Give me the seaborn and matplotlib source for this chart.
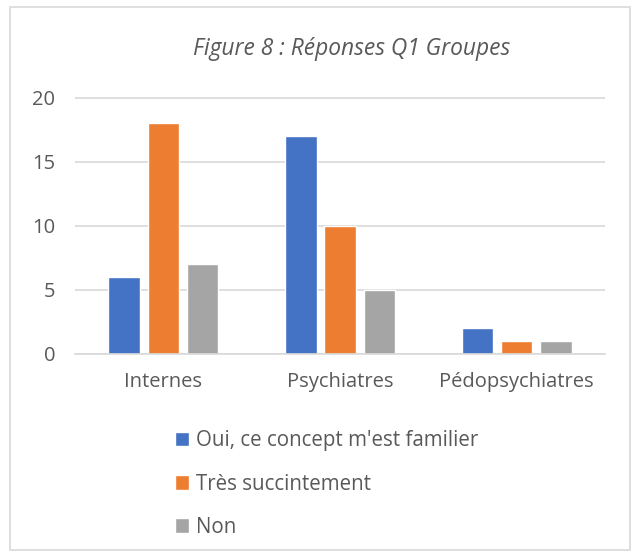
import matplotlib
matplotlib.use("Agg")
import matplotlib.pyplot as plt
import pandas as pd
import seaborn as sns
from matplotlib.patches import Rectangle

# ─── Données ──────────────────────────────────────────────────────────────────
groupes = ["Internes", "Psychiatres", "Pédopsychiatres"]
reponses = ["Oui, ce concept m'est familier", "Très succintement", "Non"]
oui = [6, 17, 2]
succinct = [18, 10, 1]
non = [7, 5, 1]
couleurs = ["#4472C4", "#ED7D31", "#A5A5A5"]

df = pd.DataFrame({
    "Groupe": groupes * 3,
    "Réponse": [r for r in reponses for _ in groupes],
    "N": oui + succinct + non,
})

sns.set_style("white")
plt.rcParams["font.family"] = ["Open Sans", "DejaVu Sans"]
texte = "#595959"
grille = "#D9D9D9"

fig = plt.figure(figsize=(6.35, 5.57), dpi=100)
ax = fig.add_axes([0.118, 0.3645, 0.835, 0.4615])

sns.barplot(data=df, x="Groupe", y="N", hue="Réponse", hue_order=reponses,
            palette=couleurs, width=0.665, gap=0.2, ax=ax, saturation=1,
            legend=True)

ax.set_xlim(-0.5, 2.5)
ax.set_ylim(0, 20.05)
ax.set_yticks([0, 5, 10, 15, 20])
ax.yaxis.grid(True, color=grille, lw=1.2)
ax.set_axisbelow(True)
for s in ["top", "right", "left"]:
    ax.spines[s].set_visible(False)
ax.spines["bottom"].set_color(grille)
ax.spines["bottom"].set_linewidth(1.2)
ax.tick_params(length=0, colors=texte, labelsize=14.5)
ax.tick_params(axis="x", pad=13)
ax.tick_params(axis="y", pad=14)
ax.set_xlabel("")
ax.set_ylabel("")

handles, labels = ax.get_legend_handles_labels()
ax.legend_.remove()
fig.legend(handles, labels, loc="upper left", bbox_to_anchor=(0.262, 0.242),
           frameon=False, fontsize=14.8, labelcolor=texte, handlelength=0.7,
           handleheight=0.7, handletextpad=0.35, labelspacing=1.08,
           borderaxespad=0)

fig.text(0.554, 0.912, "Figure 8 : Réponses Q1 Groupes", ha="center",
         va="center", fontsize=16.4, style="italic", color=texte)

fig.patches.append(Rectangle((10 / 635, 7 / 557), 620 / 635, 543 / 557,
                             transform=fig.transFigure, fill=False,
                             edgecolor=grille, lw=1.2))

fig.savefig("out.png", dpi=100)
